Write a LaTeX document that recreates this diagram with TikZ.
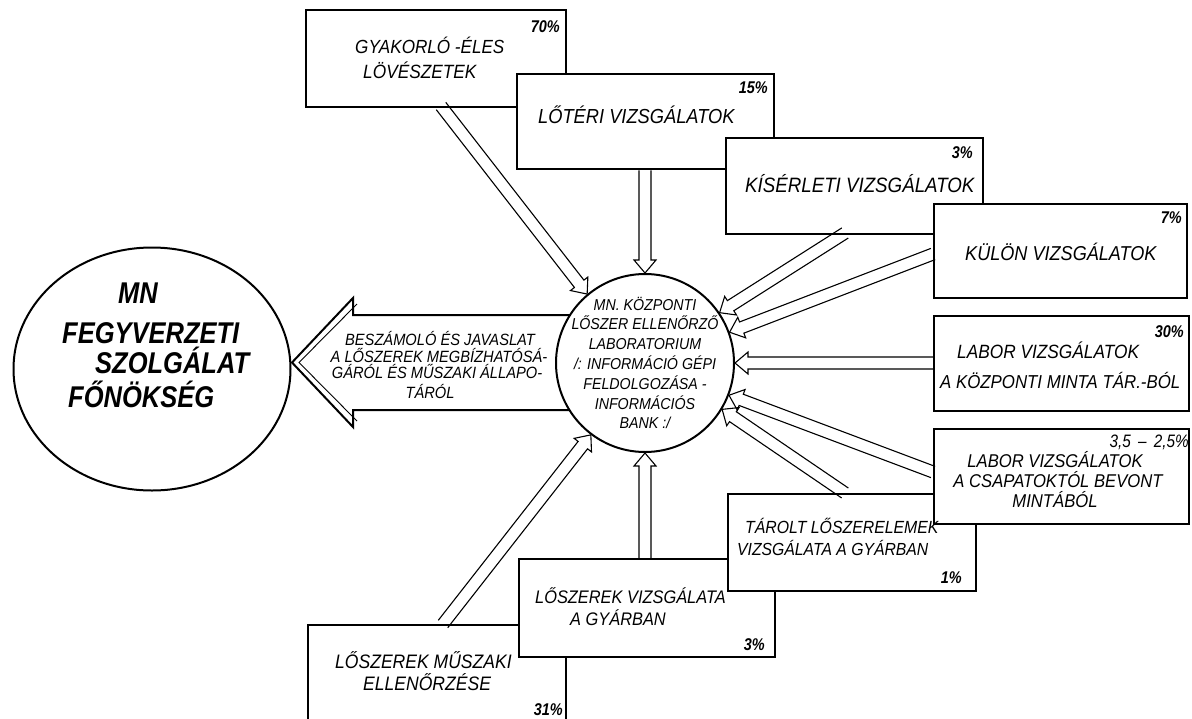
\documentclass[tikz,border=0pt]{standalone}
\usepackage{fontspec}
\newfontfamily\hand[FakeStretch=0.9]{Liberation Sans}
\newfontfamily\handn[FakeStretch=0.85]{Liberation Sans}
\usetikzlibrary{calc,shapes.geometric}
\newcommand\hf[1]{\hand\itshape\fontsize{#1}{#1}\selectfont}
\newcommand\hfs[2]{\hand\itshape\fontsize{#1}{#2}\selectfont}
\newcommand\hfb[1]{\handn\itshape\bfseries\fontsize{#1}{#1}\selectfont}
\newcommand\hfn[1]{\handn\itshape\fontsize{#1}{#1}\selectfont}
\tikzset{
  box/.style={draw, line width=2.4pt, fill=white, inner sep=0pt, anchor=north west},
  txt/.style={font=\hf{20.3}, inner sep=0pt, anchor=base west},
  ctxt/.style={font=\hf{18.5}, inner sep=0pt, anchor=base},
  atxt/.style={font=\hf{16.3}, inner sep=0pt, anchor=base},
  bigtxt/.style={font=\hfb{30}, inner sep=0pt, anchor=base west},
  pct/.style={font=\hfb{17}, inner sep=0pt, anchor=base east},
  arrowline/.style={line width=1.1pt, line join=miter},
}
\newcommand\hollowarrow[2]{%
  \coordinate (hb) at ($(#2)!13pt!(#1)$);
  \draw[arrowline] ($(#1)!6pt!90:(#2)$) -- ($(hb)!6pt!-90:(#1)$) -- ($(hb)!11pt!-90:(#1)$) -- (#2)
    -- ($(hb)!11pt!90:(#1)$) -- ($(hb)!6pt!90:(#1)$) -- ($(#1)!6pt!-90:(#2)$);
}
\begin{document}
\begin{tikzpicture}[x=1pt,y=-1pt]
\useasboundingbox (0,0) rectangle (1192,718);
\clip (0,0) rectangle (1192,718);

% boxes (drawing order gives the overlaps)
\node[box, minimum width=260pt, minimum height=97pt] (b1) at (305,9) {};
\node[box, minimum width=257pt, minimum height=95pt] (b2) at (516,73) {};
\node[box, minimum width=257pt, minimum height=96pt] (b3) at (725,137) {};
\node[box, minimum width=253pt, minimum height=94pt] (b4) at (933,203) {};
\node[box, minimum width=255pt, minimum height=95pt] (b5) at (933,315) {};
\node[box, minimum width=258pt, minimum height=110pt] (b9) at (307,624) {};
\node[box, minimum width=256pt, minimum height=98pt] (b8) at (518,558) {};
\node[box, minimum width=248pt, minimum height=97pt] (b7) at (727,493) {};
\node[box, minimum width=255pt, minimum height=95pt] (b6) at (933,428) {};

% box texts
\node[txt, font=\hf{19}] (t1a) at (355,53) {GYAKORLÓ -ÉLES};
\node[txt, font=\hf{19.2}] (t1b) at (363,78) {LÖVÉSZETEK};
\node[pct] (p1) at (560,32) {70\%};
\node[txt] (t2) at (538,123) {LŐTÉRI VIZSGÁLATOK};
\node[pct] (p2) at (768,93) {15\%};
\node[txt, font=\hf{20.8}] (t3) at (745,192) {KÍSÉRLETI VIZSGÁLATOK};
\node[pct] (p3) at (973,158) {3\%};
\node[txt, font=\hf{20.1}] (t4) at (965,260) {KÜLÖN VIZSGÁLATOK};
\node[pct] (p4) at (1182,223) {7\%};
\node[txt, font=\hf{19.2}] (t5a) at (957,358) {LABOR VIZSGÁLATOK};
\node[txt, font=\hf{18.7}] (t5b) at (940,388) {A KÖZPONTI MINTA TÁR.-BÓL};
\node[pct] (p5) at (1184,337) {30\%};
\node[ctxt] (t6a) at (1055,467) {LABOR VIZSGÁLATOK};
\node[ctxt] (t6b) at (1058,487) {A CSAPATOKTÓL BEVONT};
\node[ctxt] (t6c) at (1055,507) {MINTÁBÓL};
\node[pct, font=\hfn{18}] (p6) at (1189,447) {3,5 \,–\, 2,5\%};
\node[txt, font=\hf{17.6}] (t7a) at (745,533) {TÁROLT LŐSZERELEMEK};
\node[txt, font=\hf{17.5}] (t7b) at (737,555) {VIZSGÁLATA A GYÁRBAN};
\node[pct] (p7) at (962,583) {1\%};
\node[txt, font=\hf{18.2}] (t8a) at (535,603) {LŐSZEREK VIZSGÁLATA};
\node[txt, font=\hf{18.2}] (t8b) at (570,625) {A GYÁRBAN};
\node[pct] (p8) at (765,650) {3\%};
\node[txt, font=\hf{19.5}] (t9a) at (335,668) {LŐSZEREK MŰSZAKI};
\node[txt, font=\hf{19.5}] (t9b) at (363,690) {ELLENŐRZÉSE};
\node[pct] (p9) at (563,715) {31\%};

% big report arrow
\coordinate (ba1) at (600,315);
\coordinate (ba2) at (600,410);
\draw[line width=2pt, line join=miter, fill=white] (ba1) -- (353,315) -- (353,298) -- (292,362.5) -- (353,427) -- (353,410) -- (ba2);
\draw[line width=0.9pt] (357,304) -- (299,362.5) -- (357,421);
\node[atxt] (r1) at (440,345.5) {BESZÁMOLÓ ÉS JAVASLAT};
\node[atxt] (r2) at (439,362.5) {A LŐSZEREK MEGBÍZHATÓSÁ-};
\node[atxt] (r3) at (437,378.5) {GÁRÓL ÉS MŰSZAKI ÁLLAPO-};
\node[atxt] (r4) at (430,398.5) {TÁRÓL};

% central laboratory circle
\node[circle, draw, line width=2pt, fill=white, minimum size=178pt, inner sep=0pt] (cc) at (645,363) {};
\node[align=center, inner sep=0pt, font=\hfs{15.8}{19.8}] (ct) at (645,363)
  {MN.\ KÖZPONTI\\LŐSZER ELLENŐRZŐ\\LABORATORIUM\\/: INFORMÁCIÓ GÉPI\\FELDOLGOZÁSA -\\INFORMÁCIÓS\\BANK :/};

% left command circle
\node[ellipse, draw, line width=2pt, minimum width=277pt, minimum height=243pt, inner sep=0pt] (lc) at (152,369) {};
\node[bigtxt] (l1) at (118,303) {MN};
\node[bigtxt] (l2) at (62,343) {FEGYVERZETI};
\node[bigtxt] (l3) at (95,373) {SZOLGÁLAT};
\node[bigtxt] (l4) at (68,407) {FŐNÖKSÉG};

% start points of the inflow arrows
\coordinate (s1) at (441,106);
\coordinate (s2) at (cc.north |- b2.south);
\coordinate (s3) at (845,233);
\coordinate (s4) at (933,254);
\coordinate (s5) at (b5.west |- cc.east);
\coordinate (s6) at (933,472);
\coordinate (s7) at (845,493);
\coordinate (s8) at (cc.south |- b8.north);
\coordinate (s9) at (443,624);

\hollowarrow{s1}{cc.130}
\hollowarrow{s2}{cc.north}
\hollowarrow{s3}{cc.34}
\hollowarrow{s4}{cc.20}
\hollowarrow{s5}{cc.east}
\hollowarrow{s6}{cc.-21}
\hollowarrow{s7}{cc.-31}
\hollowarrow{s8}{cc.south}
\hollowarrow{s9}{cc.-127}
\end{tikzpicture}
\end{document}
